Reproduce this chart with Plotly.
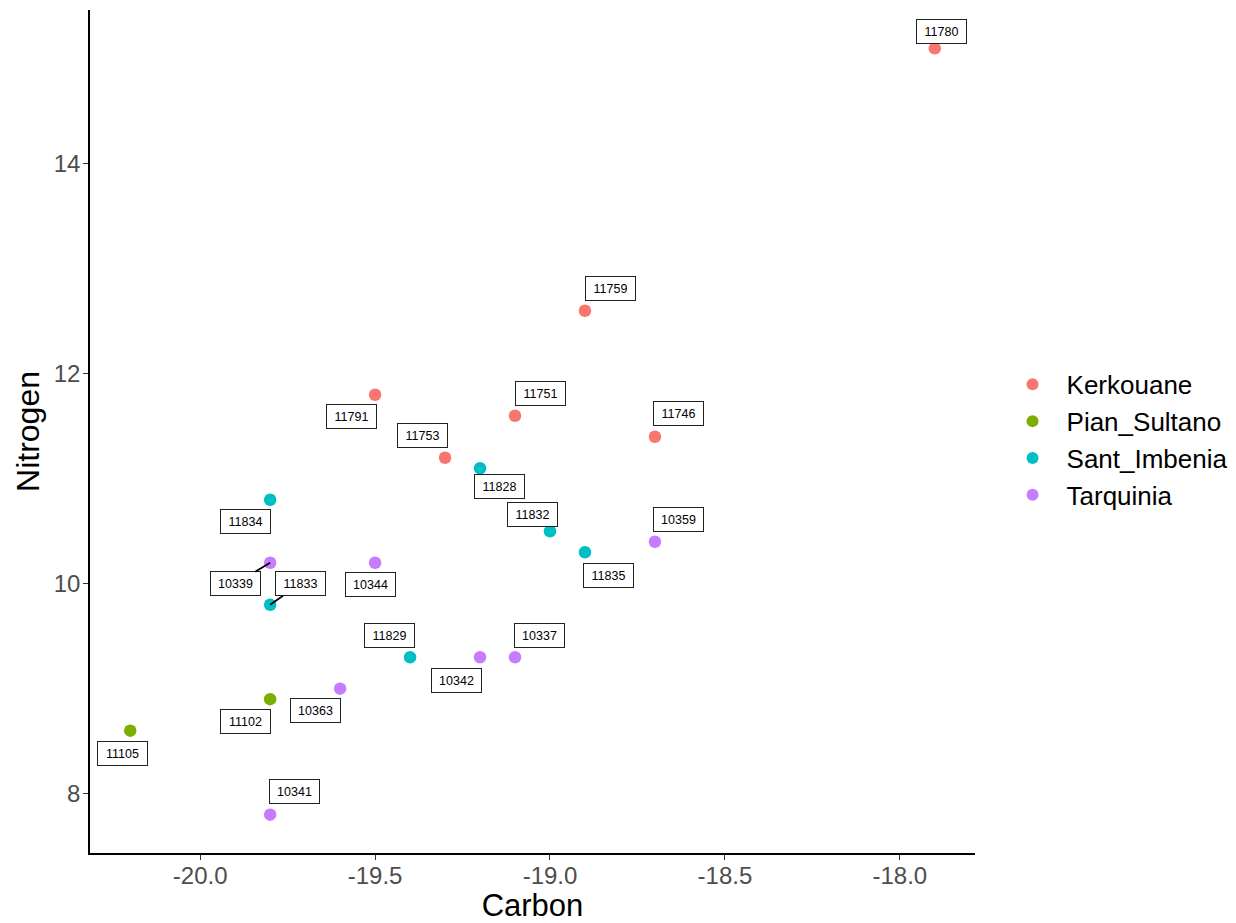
import plotly.graph_objects as go

# ---- data ----
sites = ["Kerkouane", "Pian_Sultano", "Sant_Imbenia", "Tarquinia"]

kerkouane_id = ["11780", "11759", "11791", "11751", "11746", "11753"]
kerkouane_c = [-17.9, -18.9, -19.5, -19.1, -18.7, -19.3]
kerkouane_n = [15.1, 12.6, 11.8, 11.6, 11.4, 11.2]

pian_id = ["11105", "11102"]
pian_c = [-20.2, -19.8]
pian_n = [8.6, 8.9]

sant_id = ["11828", "11834", "11832", "11835", "11833", "11829"]
sant_c = [-19.2, -19.8, -19.0, -18.9, -19.8, -19.4]
sant_n = [11.1, 10.8, 10.5, 10.3, 9.8, 9.3]

tarq_id = ["10339", "10344", "10359", "10342", "10337", "10363", "10341"]
tarq_c = [-19.8, -19.5, -18.7, -19.2, -19.1, -19.6, -19.8]
tarq_n = [10.2, 10.2, 10.4, 9.3, 9.3, 9.0, 7.8]

x_ticks = [-20.0, -19.5, -19.0, -18.5, -18.0]
x_tick_text = ["-20.0", "-19.5", "-19.0", "-18.5", "-18.0"]
y_ticks = [8, 10, 12, 14]

# ---- styling / layout (not data) ----
colors = {"Kerkouane": "#F8766D", "Pian_Sultano": "#7CAE00",
          "Sant_Imbenia": "#00BFC4", "Tarquinia": "#C77CFF"}

# label offsets in pixels (dx, dy) relative to the point (repel layout)
label_offsets = {
    "11780": (7, -17), "11759": (26, -22), "11791": (-24, 22), "11751": (25, -22),
    "11746": (24, -23), "11753": (-23, -22), "11828": (19, 18), "11834": (-25, 22),
    "11832": (-17, -17), "11835": (24, 23), "10359": (24, -22), "10339": (-35, 21),
    "10344": (-5, 22), "11833": (30, -21), "11829": (-21, -22), "10342": (-24, 23),
    "10337": (24, -22), "10363": (-25, 22), "11102": (-25, 22), "11105": (-8, 23),
    "10341": (24, -23),
}
with_segment = {"10339", "11833"}

groups = [
    ("Kerkouane", kerkouane_id, kerkouane_c, kerkouane_n),
    ("Pian_Sultano", pian_id, pian_c, pian_n),
    ("Sant_Imbenia", sant_id, sant_c, sant_n),
    ("Tarquinia", tarq_id, tarq_c, tarq_n),
]

FONT = "Liberation Sans, Arial"
label_font = dict(family=FONT, size=12.5, color="black")

fig = go.Figure()
annotations = []
for name, ids, cs, ns in groups:
    fig.add_trace(go.Scatter(
        x=cs, y=ns, mode="markers", name=name,
        marker=dict(color=colors[name], size=12.5, line=dict(width=0)),
    ))
    for i, c, n in zip(ids, cs, ns):
        dx, dy = label_offsets[i]
        common = dict(x=c, y=n, xref="x", yref="y", text=i, font=label_font,
                      width=39, height=13, align="center", valign="middle",
                      bordercolor="#222222", borderwidth=1, borderpad=5, bgcolor="white")
        if i in with_segment:
            annotations.append(dict(
                showarrow=True, ax=dx, ay=dy, arrowhead=0, arrowwidth=1.8,
                arrowcolor="black", standoff=0, startstandoff=0, **common))
        else:
            annotations.append(dict(showarrow=False, xshift=dx, yshift=-dy, **common))

axis_common = dict(
    showgrid=False, zeroline=False, showline=True, linecolor="black", linewidth=1.5,
    ticks="outside", ticklen=5, tickwidth=1.2, tickcolor="#333333",
    tickfont=dict(family=FONT, size=24, color="#4D4D4D"),
    mirror=False, automargin=False,
)

fig.update_layout(
    width=1228, height=915,
    margin=dict(l=82, r=261, t=2, b=70),
    paper_bgcolor="white", plot_bgcolor="white",
    font=dict(family=FONT),
    xaxis=dict(range=[-20.315, -17.785], tickvals=x_ticks, ticktext=x_tick_text,
               ticklabelstandoff=-5,
               title=dict(text="Carbon", font=dict(size=31, color="black"), standoff=3),
               **axis_common),
    yaxis=dict(range=[7.435, 15.465], tickvals=y_ticks, ticklabelstandoff=-2,
               title=dict(text="Nitrogen", font=dict(size=32, color="black"), standoff=5),
               **axis_common),
    legend=dict(x=1.0266, y=0.49, xanchor="left", yanchor="middle",
                font=dict(size=26, color="black"), bgcolor="rgba(0,0,0,0)",
                itemsizing="constant", itemwidth=58, tracegroupgap=0),
    showlegend=True,
    annotations=annotations,
)

fig.write_html("out.html")
